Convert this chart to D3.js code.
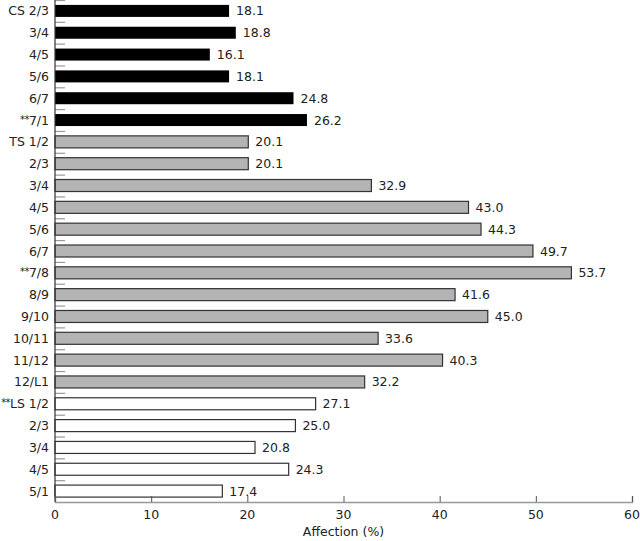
<!DOCTYPE html>
<html>
<head>
<meta charset="utf-8">
<script src="https://cdn.jsdelivr.net/npm/d3@7"></script>
<style>
  body { margin: 0; background: #fff; }
  text { font-family: "DejaVu Sans", sans-serif; fill: #222; }
</style>
</head>
<body>
<svg width="640" height="541"></svg>
<script>
// segments (cervical, thoracic, lumbar)
var stars = ["", "", "", "", "", "**", "", "", "", "", "", "", "**", "", "", "", "", "", "**", "", "", "", ""];
var levels = ["CS 2/3", "3/4", "4/5", "5/6", "6/7", "7/1",
  "TS 1/2", "2/3", "3/4", "4/5", "5/6", "6/7", "7/8", "8/9", "9/10", "10/11", "11/12", "12/L1",
  "LS 1/2", "2/3", "3/4", "4/5", "5/1"];
var groups = ["C", "C", "C", "C", "C", "C",
  "T", "T", "T", "T", "T", "T", "T", "T", "T", "T", "T", "T",
  "L", "L", "L", "L", "L"];
var values = [18.1, 18.8, 16.1, 18.1, 24.8, 26.2,
  20.1, 20.1, 32.9, 43.0, 44.3, 49.7, 53.7, 41.6, 45.0, 33.6, 40.3, 32.2,
  27.1, 25.0, 20.8, 24.3, 17.4];
var xTicks = [0, 10, 20, 30, 40, 50, 60];

var data = levels.map(function(d, i) {
  return { id: i, label: d, star: stars[i], group: groups[i], value: values[i] };
});

var margin = { top: 0, left: 55 };
var width = 577, height = 502;

var svg = d3.select("svg");
var g = svg.append("g")
  .attr("transform", "translate(" + margin.left + "," + margin.top + ")");

var x = d3.scaleLinear().domain([0, 60]).range([0, width]);
var y = d3.scaleBand()
  .domain(data.map(function(d) { return d.id; }))
  .range([0, height])
  .paddingInner(0.45)
  .paddingOuter(0.225);

var fill = { C: "#000", T: "#b4b4b4", L: "#fff" };

// tick marks between the bars
g.selectAll(".ytick")
  .data(data)
  .enter().append("line")
  .attr("x1", 0).attr("x2", 10)
  .attr("y1", function(d, i) { return y.step() * i + 0.5; })
  .attr("y2", function(d, i) { return y.step() * i + 0.5; })
  .attr("stroke", "#999")
  .attr("stroke-width", 1.2);

g.selectAll(".bar")
  .data(data)
  .enter().append("rect")
  .attr("x", 0)
  .attr("y", function(d) { return y(d.id); })
  .attr("width", function(d) { return x(d.value); })
  .attr("height", y.bandwidth())
  .attr("fill", function(d) { return fill[d.group]; })
  .attr("stroke", function(d) { return d.group == "C" ? "none" : "#333"; })
  .attr("stroke-width", 1.2);

g.selectAll(".val")
  .data(data)
  .enter().append("text")
  .attr("x", function(d) { return x(d.value) + 7; })
  .attr("y", function(d) { return y(d.id) + y.bandwidth() / 2; })
  .attr("dy", "0.36em")
  .attr("font-size", 12.5)
  .text(function(d) { return d.value.toFixed(1); });

var lab = g.selectAll(".lab")
  .data(data)
  .enter().append("text")
  .attr("x", -6)
  .attr("y", function(d) { return y(d.id) + y.bandwidth() / 2; })
  .attr("dy", "0.36em")
  .attr("text-anchor", "end")
  .attr("font-size", 12.5);
lab.append("tspan")
  .attr("font-size", 10)
  .attr("letter-spacing", -0.6)
  .attr("baseline-shift", "20%")
  .text(function(d) { return d.star; });
lab.append("tspan")
  .text(function(d) { return d.label; });

// axes
g.append("line")
  .attr("x1", 0).attr("x2", 0).attr("y1", 0).attr("y2", height)
  .attr("stroke", "#333").attr("stroke-width", 1.2);

var xAxis = g.append("g")
  .attr("transform", "translate(0," + height + ")")
  .call(d3.axisTop(x).tickValues(xTicks).tickSize(6).tickFormat(""));
xAxis.select(".domain").attr("stroke", "#999").attr("stroke-width", 1.5);
xAxis.selectAll(".tick line").attr("stroke", "#555");

g.selectAll(".xlab")
  .data(xTicks)
  .enter().append("text")
  .attr("x", function(d) { return x(d); })
  .attr("y", height + 17)
  .attr("text-anchor", "middle")
  .attr("font-size", 12.5)
  .text(function(d) { return d; });

g.append("text")
  .attr("x", x(30))
  .attr("y", height + 34)
  .attr("text-anchor", "middle")
  .attr("font-size", 12.5)
  .text("Affection (%)");
</script>
</body>
</html>
